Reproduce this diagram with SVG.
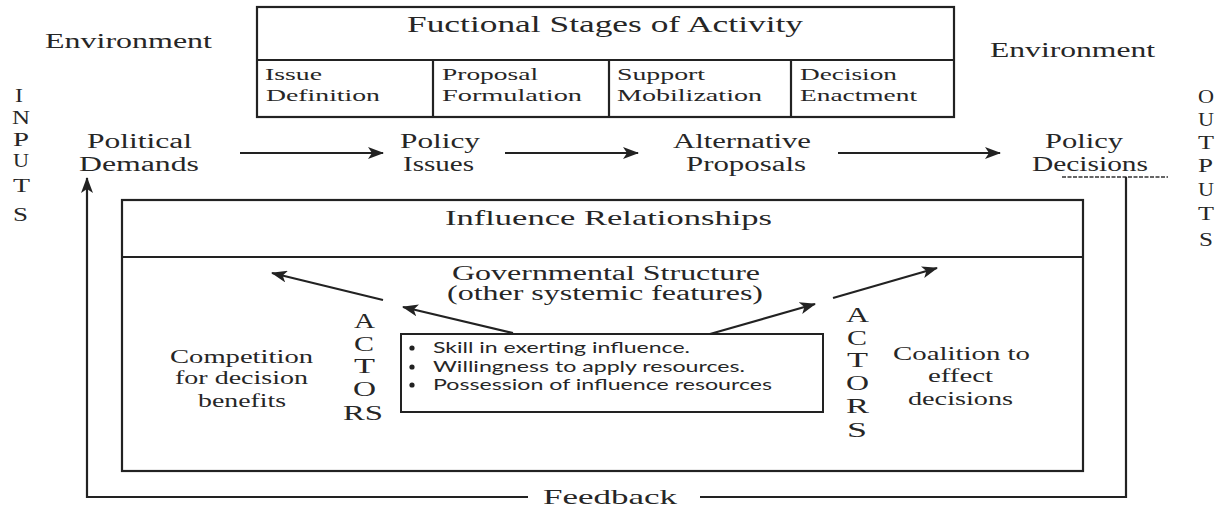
<svg xmlns="http://www.w3.org/2000/svg" width="1221" height="508" viewBox="0 0 1221 508">
<style>
.t{font-family:"Liberation Serif","Times New Roman",serif;fill:#262626}
.s{font-family:Lato,"Liberation Sans",Arial,sans-serif;fill:#262626}
.box{fill:none;stroke:#222;stroke-width:2.2}
.ln{fill:none;stroke:#222;stroke-width:2}
.c{stroke:#222;stroke-width:2.2;fill:none}
</style>
<defs>
<marker id="ah" markerUnits="userSpaceOnUse" markerWidth="16" markerHeight="12" refX="15" refY="6" orient="auto">
<path d="M0,0 L16,6 L0,12 L4,6 Z" fill="#222"/>
</marker>
</defs>
<rect width="1221" height="508" fill="#fff"/>

<g id="environment-left"><text class="t" x="45" y="48" font-size="20" textLength="167" lengthAdjust="spacingAndGlyphs">Environment</text></g>
<g id="environment-right"><text class="t" x="990" y="57" font-size="20" textLength="165" lengthAdjust="spacingAndGlyphs">Environment</text></g>

<g id="inputs" class="t" font-size="18">
<text x="15" y="102" textLength="8" lengthAdjust="spacingAndGlyphs">I</text>
<text x="12" y="124" textLength="18" lengthAdjust="spacingAndGlyphs">N</text>
<text x="13" y="146" textLength="16" lengthAdjust="spacingAndGlyphs">P</text>
<text x="13" y="167" textLength="16" lengthAdjust="spacingAndGlyphs">U</text>
<text x="13" y="192" textLength="17" lengthAdjust="spacingAndGlyphs">T</text>
<text x="13" y="221" textLength="15" lengthAdjust="spacingAndGlyphs">S</text>
</g>
<g id="outputs" class="t" font-size="18">
<text x="1198" y="103" textLength="16" lengthAdjust="spacingAndGlyphs">O</text>
<text x="1198" y="126" textLength="16" lengthAdjust="spacingAndGlyphs">U</text>
<text x="1198" y="149" textLength="16" lengthAdjust="spacingAndGlyphs">T</text>
<text x="1198" y="172" textLength="15" lengthAdjust="spacingAndGlyphs">P</text>
<text x="1198" y="196" textLength="16" lengthAdjust="spacingAndGlyphs">U</text>
<text x="1198" y="220" textLength="16" lengthAdjust="spacingAndGlyphs">T</text>
<text x="1199" y="246" textLength="14" lengthAdjust="spacingAndGlyphs">S</text>
</g>

<g id="functional-stages">
<rect class="box" x="257" y="7" width="697" height="110"/>
<line class="box" x1="257" y1="60" x2="954" y2="60"/>
<line class="box" x1="433" y1="60" x2="433" y2="117"/>
<line class="box" x1="609" y1="60" x2="609" y2="117"/>
<line class="box" x1="791" y1="60" x2="791" y2="117"/>
<text class="t" x="407" y="32" font-size="23" textLength="396" lengthAdjust="spacingAndGlyphs">Fuctional Stages of Activity</text>
<g font-size="17">
<text class="t" x="265" y="80" textLength="57" lengthAdjust="spacingAndGlyphs">Issue</text>
<text class="t" x="266" y="101" textLength="114" lengthAdjust="spacingAndGlyphs">Definition</text>
<text class="t" x="442" y="80" textLength="96" lengthAdjust="spacingAndGlyphs">Proposal</text>
<text class="t" x="442" y="101" textLength="140" lengthAdjust="spacingAndGlyphs">Formulation</text>
<text class="t" x="617" y="80" textLength="88" lengthAdjust="spacingAndGlyphs">Support</text>
<text class="t" x="617" y="101" textLength="145" lengthAdjust="spacingAndGlyphs">Mobilization</text>
<text class="t" x="800" y="80" textLength="97" lengthAdjust="spacingAndGlyphs">Decision</text>
<text class="t" x="800" y="101" textLength="117" lengthAdjust="spacingAndGlyphs">Enactment</text>
</g>
</g>

<g id="political-demands" font-size="20">
<text class="t" x="87" y="148" textLength="105" lengthAdjust="spacingAndGlyphs">Political</text>
<text class="t" x="79" y="171" textLength="120" lengthAdjust="spacingAndGlyphs">Demands</text>
</g>
<g id="policy-issues" font-size="20">
<text class="t" x="400" y="148" textLength="80" lengthAdjust="spacingAndGlyphs">Policy</text>
<text class="t" x="403" y="171" textLength="71" lengthAdjust="spacingAndGlyphs">Issues</text>
</g>
<g id="alternative-proposals" font-size="20">
<text class="t" x="673" y="148" textLength="138" lengthAdjust="spacingAndGlyphs">Alternative</text>
<text class="t" x="686" y="171" textLength="120" lengthAdjust="spacingAndGlyphs">Proposals</text>
</g>
<g id="policy-decisions" font-size="20">
<text class="t" x="1045" y="148" textLength="78" lengthAdjust="spacingAndGlyphs">Policy</text>
<text class="t" x="1032" y="171" textLength="116" lengthAdjust="spacingAndGlyphs">Decisions</text>
</g>

<g id="influence-relationships">
<rect class="box" x="122" y="200" width="961" height="271"/>
<line class="ln" x1="122" y1="257" x2="1083" y2="257"/>
<text class="t" x="445" y="225" font-size="22" textLength="327" lengthAdjust="spacingAndGlyphs">Influence Relationships</text>
</g>
<g id="governmental-structure" font-size="20">
<text class="t" x="452" y="280" textLength="308" lengthAdjust="spacingAndGlyphs">Governmental Structure</text>
<text class="t" x="447" y="300" textLength="316" lengthAdjust="spacingAndGlyphs">(other systemic features)</text>
</g>
<g id="competition" font-size="18">
<text class="t" x="170" y="363" textLength="143" lengthAdjust="spacingAndGlyphs">Competition</text>
<text class="t" x="175" y="384" textLength="133" lengthAdjust="spacingAndGlyphs">for decision</text>
<text class="t" x="198" y="407" textLength="88" lengthAdjust="spacingAndGlyphs">benefits</text>
</g>
<g id="coalition" font-size="18">
<text class="t" x="893" y="360" textLength="137" lengthAdjust="spacingAndGlyphs">Coalition to</text>
<text class="t" x="928" y="382" textLength="65" lengthAdjust="spacingAndGlyphs">effect</text>
<text class="t" x="908" y="405" textLength="105" lengthAdjust="spacingAndGlyphs">decisions</text>
</g>
<g id="actors-left" class="t" font-size="20">
<text x="354" y="328" textLength="21" lengthAdjust="spacingAndGlyphs">A</text>
<text x="354" y="350.5" textLength="20" lengthAdjust="spacingAndGlyphs">C</text>
<text x="354" y="373" textLength="21" lengthAdjust="spacingAndGlyphs">T</text>
<text x="353" y="396" textLength="23" lengthAdjust="spacingAndGlyphs">O</text>
<text x="343" y="420" textLength="40" lengthAdjust="spacingAndGlyphs">RS</text>
</g>
<g id="actors-right" class="t" font-size="20">
<text x="846" y="322" textLength="23" lengthAdjust="spacingAndGlyphs">A</text>
<text x="847" y="344.5" textLength="20" lengthAdjust="spacingAndGlyphs">C</text>
<text x="847" y="367" textLength="21" lengthAdjust="spacingAndGlyphs">T</text>
<text x="846" y="390" textLength="23" lengthAdjust="spacingAndGlyphs">O</text>
<text x="846" y="413" textLength="23" lengthAdjust="spacingAndGlyphs">R</text>
<text x="847" y="437" textLength="20" lengthAdjust="spacingAndGlyphs">S</text>
</g>
<g id="actor-attributes">
<rect class="ln" x="401" y="334" width="422" height="78"/>
<circle cx="412" cy="348" r="2.6" fill="#222"/>
<circle cx="412" cy="367" r="2.6" fill="#222"/>
<circle cx="412" cy="385" r="2.6" fill="#222"/>
<text class="s" x="433" y="353" font-size="15" textLength="257" lengthAdjust="spacingAndGlyphs">Skill in exerting influence.</text>
<text class="s" x="433" y="372" font-size="15" textLength="312" lengthAdjust="spacingAndGlyphs">Willingness to apply resources.</text>
<text class="s" x="433" y="390" font-size="15" textLength="339" lengthAdjust="spacingAndGlyphs">Possession of influence resources</text>
</g>
<g id="feedback-label"><text class="t" x="543" y="504" font-size="22" textLength="134" lengthAdjust="spacingAndGlyphs">Feedback</text></g>

<g id="connectors">
<line class="c" x1="240" y1="153" x2="383" y2="153" marker-end="url(#ah)"/>
<line class="c" x1="505" y1="153" x2="638" y2="153" marker-end="url(#ah)"/>
<line class="c" x1="838" y1="153" x2="1000" y2="153" marker-end="url(#ah)"/>
<line x1="1062" y1="177" x2="1168" y2="177" stroke="#333" stroke-width="1.5" stroke-dasharray="4 1.5"/>
<path class="c" d="M1126 177 V497 H700"/>
<path class="c" d="M528 497 H87 V178" marker-end="url(#ah)"/>
<line class="c" x1="383" y1="300" x2="272" y2="273" marker-end="url(#ah)"/>
<line class="c" x1="513" y1="333" x2="403" y2="307" marker-end="url(#ah)"/>
<line class="c" x1="710" y1="334" x2="815" y2="304" marker-end="url(#ah)"/>
<line class="c" x1="833" y1="298" x2="937" y2="268" marker-end="url(#ah)"/>
</g>
</svg>
